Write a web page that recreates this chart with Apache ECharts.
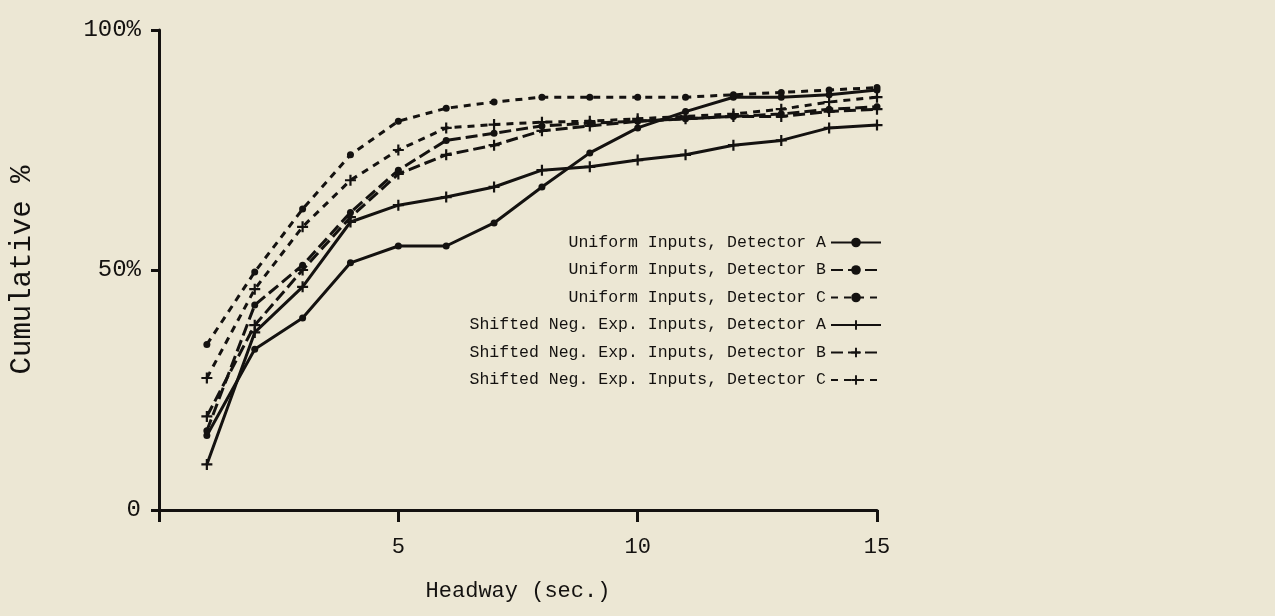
<!DOCTYPE html>
<html>
<head>
<meta charset="utf-8">
<title>Cumulative headway</title>
<script src="https://cdn.jsdelivr.net/npm/echarts@6/dist/echarts.min.js"></script>
<style>
    html, body { margin: 0; padding: 0; background: #ece7d4; }
    #chart { width: 1275px; height: 616px; }
</style>
</head>
<body>
<div id="chart"></div>
<script>
// headway in seconds
const headway = [1, 2, 3, 4, 5, 6, 7, 8, 9, 10, 11, 12, 13, 14, 15];

// cumulative %
const uniformA = [15.5, 33.5, 40, 51.5, 55, 55, 59.8, 67.3, 74.4, 79.6, 83, 86, 86, 86.5, 87.5];
const uniformB = [16.5, 42.7, 51, 62, 70.8, 77, 78.5, 80, 80.6, 81, 81.5, 82, 82.5, 83.5, 84];
const uniformC = [34.5, 49.6, 62.7, 74, 81, 83.7, 85, 86, 86, 86, 86, 86.5, 87, 87.5, 88];
const shiftedA = [9.5, 37, 46.5, 60, 63.5, 65.2, 67.3, 70.8, 71.5, 72.9, 74, 76, 77, 79.6, 80.2];
const shiftedB = [19.5, 38.5, 50, 61, 70, 74, 76, 79, 80, 81, 81.5, 82, 82, 83, 83.5];
const shiftedC = [27.5, 46, 59, 68.7, 75, 79.6, 80.3, 80.8, 81, 81.5, 82, 82.5, 83.5, 85, 86];

const yTicks = { 0: '0', 50: '50%', 100: '100%' };

const ink = '#141210';
const mono = "'Liberation Mono', 'DejaVu Sans Mono', monospace";
const plus = 'path://M4,0H6V4H10V6H6V10H4V6H0V4H4Z';

function mkSeries(name, values, dash, symbol) {
    return {
        name: name,
        type: 'line',
        data: headway.map((h, i) => [h, values[i]]),
        symbol: symbol,
        symbolSize: symbol === 'circle' ? 7 : 11,
        showSymbol: true,
        itemStyle: { color: ink },
        lineStyle: { color: ink, width: 3, type: dash },
        animation: false
    };
}

const chart = echarts.init(document.getElementById('chart'));

chart.setOption({
    backgroundColor: '#ece7d4',
    textStyle: { fontFamily: mono, color: ink },
    grid: { left: 159, right: 398, top: 30, bottom: 106 },
    legend: {
        orient: 'vertical',
        right: 388,
        top: 229,
        align: 'right',
        itemWidth: 50,
        itemHeight: 12,
        itemGap: 10.5,
        textStyle: { fontFamily: mono, fontSize: 16.5, color: ink },
        formatter: name => name.padStart(36, ' ')
    },
    xAxis: {
        type: 'value',
        min: 0,
        max: 15,
        interval: 5,
        name: 'Headway (sec.)',
        nameLocation: 'middle',
        nameGap: 70,
        nameTextStyle: { fontFamily: mono, fontSize: 22, color: ink },
        axisLine: { lineStyle: { color: ink, width: 3 } },
        axisTick: { length: 12, lineStyle: { color: ink, width: 3 } },
        axisLabel: {
            fontFamily: mono, fontSize: 22, color: ink, margin: 26,
            formatter: v => v === 0 ? '' : String(v)
        },
        splitLine: { show: false }
    },
    yAxis: {
        type: 'value',
        min: 0,
        max: 100,
        interval: 50,
        name: 'Cumulative %',
        nameLocation: 'middle',
        nameGap: 122,
        nameTextStyle: { fontFamily: mono, fontSize: 29, color: ink },
        axisLine: { lineStyle: { color: ink, width: 3 } },
        axisTick: { length: 8, lineStyle: { color: ink, width: 3 } },
        axisLabel: {
            fontFamily: mono, fontSize: 24, color: ink, margin: 18,
            formatter: v => yTicks[v]
        },
        splitLine: { show: false }
    },
    series: [
        mkSeries('Uniform Inputs, Detector A', uniformA, 'solid', 'circle'),
        mkSeries('Uniform Inputs, Detector B', uniformB, [12, 5], 'circle'),
        mkSeries('Uniform Inputs, Detector C', uniformC, [7, 6], 'circle'),
        mkSeries('Shifted Neg. Exp. Inputs, Detector A', shiftedA, 'solid', plus),
        mkSeries('Shifted Neg. Exp. Inputs, Detector B', shiftedB, [12, 5], plus),
        mkSeries('Shifted Neg. Exp. Inputs, Detector C', shiftedC, [7, 6], plus)
    ]
});
</script>
</body>
</html>
